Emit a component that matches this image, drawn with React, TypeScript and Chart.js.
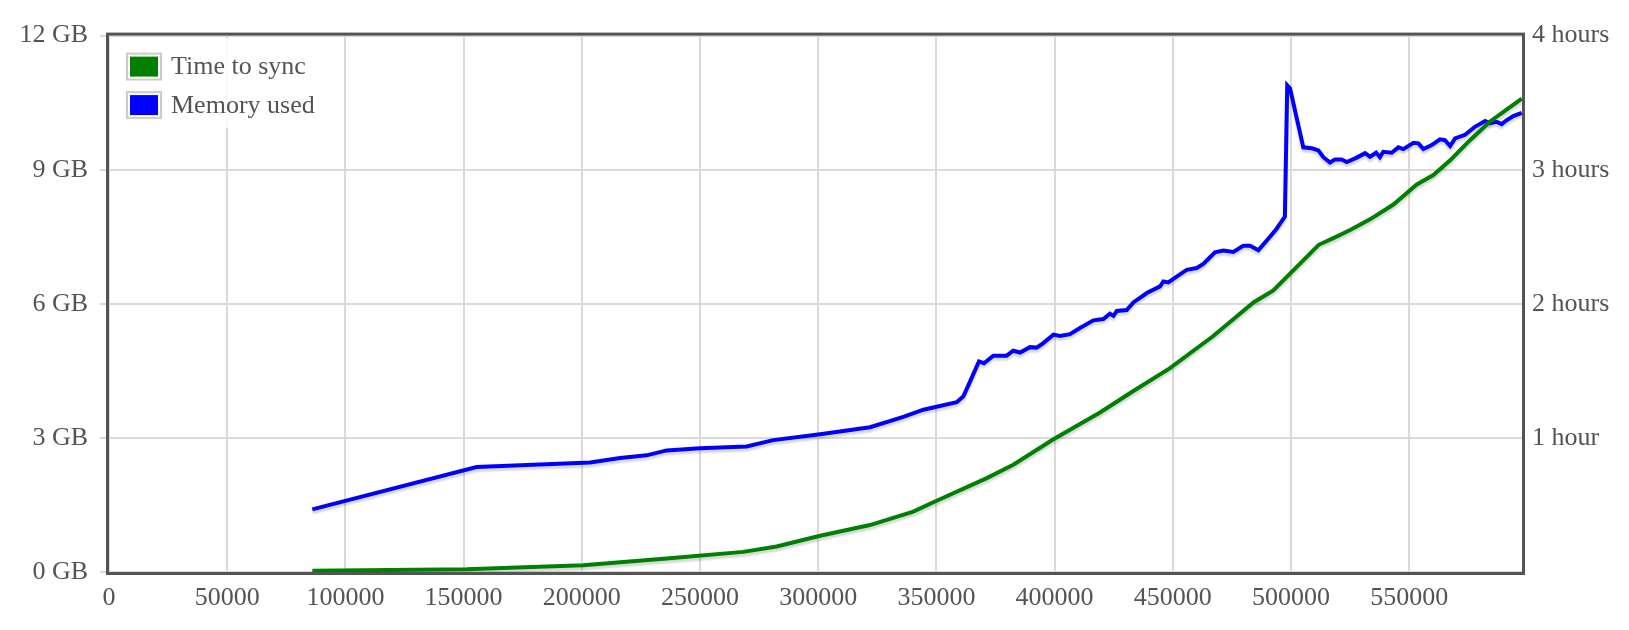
import React, { useEffect, useRef } from "react";
import { Chart, registerables } from "chart.js";

Chart.register(...registerables);

// Block height (x) and memory used in GB
const memHeights = [
  86000, 155500, 179500, 203500, 216200, 227400, 235900, 250000, 269700, 281000,
  300800, 321900, 336000, 344500, 358600, 361400, 364200, 368000, 370100, 374100,
  379700, 382500, 385400, 389600, 392400, 395200, 399500, 402300, 406500, 410700,
  416400, 420600, 423400, 424900, 426300, 430500, 433300, 439000, 444600, 446000,
  448100, 451600, 455900, 460100, 462900, 467800, 471400, 475600, 479800, 482700,
  486200, 491100, 493900, 497400, 498400, 499600, 505200, 508800, 511600, 513700,
  516500, 518600, 521400, 523600, 527800, 531300, 533400, 536000, 537600, 539000,
  542600, 545400, 547500, 551800, 553900, 556000, 559500, 563000, 565100, 567300,
  569400, 573600, 577800, 582100, 584200, 587000, 589100, 591000, 594000, 597600,
];
const memGB = [
  1.40, 2.35, 2.40, 2.45, 2.55, 2.61, 2.72, 2.77, 2.81, 2.95,
  3.08, 3.24, 3.47, 3.63, 3.80, 3.93, 4.26, 4.71, 4.67, 4.84,
  4.84, 4.95, 4.91, 5.03, 5.02, 5.12, 5.31, 5.28, 5.32, 5.46,
  5.63, 5.66, 5.78, 5.73, 5.84, 5.86, 6.03, 6.24, 6.39, 6.50,
  6.48, 6.61, 6.76, 6.80, 6.89, 7.15, 7.19, 7.16, 7.30, 7.30,
  7.20, 7.50, 7.68, 7.95, 10.89, 10.82, 9.50, 9.48, 9.43, 9.28,
  9.16, 9.23, 9.23, 9.17, 9.27, 9.37, 9.29, 9.38, 9.28, 9.40,
  9.38, 9.50, 9.46, 9.60, 9.59, 9.46, 9.55, 9.68, 9.66, 9.53,
  9.70, 9.78, 9.96, 10.09, 10.04, 10.07, 10.02, 10.10, 10.20, 10.27,
];

// Block height (x) and time to sync in hours
const syncHeights = [
  86000, 151300, 200600, 235900, 268300, 282400, 300800, 321900, 340200, 348700,
  371300, 382500, 399500, 419200, 433300, 448800, 467100, 484100, 492500, 503800,
  511700, 517900, 525000, 533400, 543300, 553200, 560200, 567300, 575700, 584200,
  597600,
];
const syncHours = [
  0.01, 0.02, 0.05, 0.10, 0.15, 0.19, 0.27, 0.35, 0.45, 0.52,
  0.70, 0.80, 0.99, 1.19, 1.35, 1.52, 1.76, 2.01, 2.10, 2.30,
  2.44, 2.49, 2.55, 2.63, 2.74, 2.89, 2.96, 3.07, 3.22, 3.36,
  3.53,
];

const seriesLabels = ["Time to sync", "Memory used"];
const seriesColors = ["#008000", "#0000ff"];
const xTickValues = [0, 50000, 100000, 150000, 200000, 250000, 300000, 350000, 400000, 450000, 500000, 550000];
const xMax = 597700;
const gbTickValues = [0, 3, 6, 9, 12];
const hourTickValues = [0, 1, 2, 3, 4];

const TEXT = "#545454";
const GRID = "#dadada";
const FONT = '"Liberation Serif", "Times New Roman", serif';

const framePlugin = {
  id: "flotFrame",
  beforeDatasetDraw(chart: any) {
    const ctx = chart.ctx;
    ctx.save();
    ctx.shadowColor = "rgba(0,0,0,0.16)";
    ctx.shadowBlur = 2;
    ctx.shadowOffsetX = 0;
    ctx.shadowOffsetY = 3;
  },
  afterDatasetDraw(chart: any) {
    chart.ctx.restore();
  },
  afterDatasetsDraw(chart: any) {
    const ctx = chart.ctx;
    const a = chart.chartArea;
    ctx.save();
    // frame
    ctx.strokeStyle = TEXT;
    ctx.lineWidth = 3;
    ctx.strokeRect(a.left - 1.5, a.top - 1.5, a.right - a.left + 3, a.bottom - a.top + 3);
    // legend
    const ds = chart.data.datasets;
    ctx.fillStyle = "rgba(255,255,255,0.85)";
    ctx.fillRect(a.left + 4, a.top + 3, 210, 89);
    ctx.font = `26px ${FONT}`;
    ctx.textBaseline = "middle";
    ctx.textAlign = "left";
    ds.forEach((d: any, i: number) => {
      const bx = a.left + 17;
      const by = a.top + 17 + i * 38.5;
      ctx.strokeStyle = "#cccccc";
      ctx.lineWidth = 2;
      ctx.strokeRect(bx + 1, by + 1, 34, 26);
      ctx.fillStyle = d.borderColor;
      ctx.fillRect(bx + 4, by + 4, 28, 20);
      ctx.fillStyle = TEXT;
      ctx.fillText(d.label, a.left + 62, by + 15);
    });
    ctx.restore();
  },
};

export default function App() {
  const ref = useRef<HTMLCanvasElement | null>(null);
  useEffect(() => {
    if (!ref.current) return;
    Chart.defaults.font.family = FONT;
    Chart.defaults.font.size = 26;
    Chart.defaults.color = TEXT;
    const chart = new Chart(ref.current, {
      type: "line",
      data: {
        datasets: [
          {
            label: seriesLabels[0],
            data: syncHeights.map((x, i) => ({ x, y: syncHours[i] })),
            borderColor: seriesColors[0],
            backgroundColor: seriesColors[0],
            borderWidth: 4,
            pointRadius: 0,
            tension: 0,
            yAxisID: "yHours",
          },
          {
            label: seriesLabels[1],
            data: memHeights.map((x, i) => ({ x, y: memGB[i] })),
            borderColor: seriesColors[1],
            backgroundColor: seriesColors[1],
            borderWidth: 4,
            pointRadius: 0,
            tension: 0,
            yAxisID: "yGB",
          },
        ],
      },
      options: {
        animation: false,
        responsive: false,
        layout: { padding: { top: 27, left: 0, right: 0, bottom: 0 } },
        plugins: { legend: { display: false }, tooltip: { enabled: false } },
        scales: {
          x: {
            type: "linear",
            min: 0,
            max: xMax,
            afterBuildTicks: (s: any) => {
              s.ticks = xTickValues.map((value) => ({ value }));
            },
            afterFit: (s: any) => {
              s.height = 50;
            },
            ticks: { padding: 11, maxRotation: 0, autoSkip: false, callback: (v: any) => String(v) },
            grid: { color: GRID, lineWidth: 2, drawTicks: false },
            border: { display: false },
          },
          yGB: {
            type: "linear",
            position: "left",
            min: 0,
            max: gbTickValues[gbTickValues.length - 1],
            afterBuildTicks: (s: any) => {
              s.ticks = gbTickValues.map((value) => ({ value }));
            },
            afterFit: (s: any) => {
              s.width = 101;
            },
            ticks: { padding: 12, callback: (v: any) => `${v} GB` },
            grid: { color: GRID, lineWidth: 2, drawTicks: true, tickLength: 9 },
            border: { display: false },
          },
          yHours: {
            type: "linear",
            position: "right",
            min: 0,
            max: hourTickValues[hourTickValues.length - 1],
            afterBuildTicks: (s: any) => {
              s.ticks = hourTickValues.map((value) => ({ value }));
            },
            afterFit: (s: any) => {
              s.width = 99;
            },
            ticks: {
              padding: 10,
              callback: (v: any) => (v === 0 ? "" : v === 1 ? "1 hour" : `${v} hours`),
            },
            grid: { display: false, drawTicks: false },
            border: { display: false },
          },
        },
      },
      plugins: [framePlugin],
    } as any);
    return () => chart.destroy();
  }, []);
  return (
    <div style={{ width: 1613, height: 614 }}>
      <canvas ref={ref} width={1613} height={614} style={{ display: "block" }} />
    </div>
  );
}
